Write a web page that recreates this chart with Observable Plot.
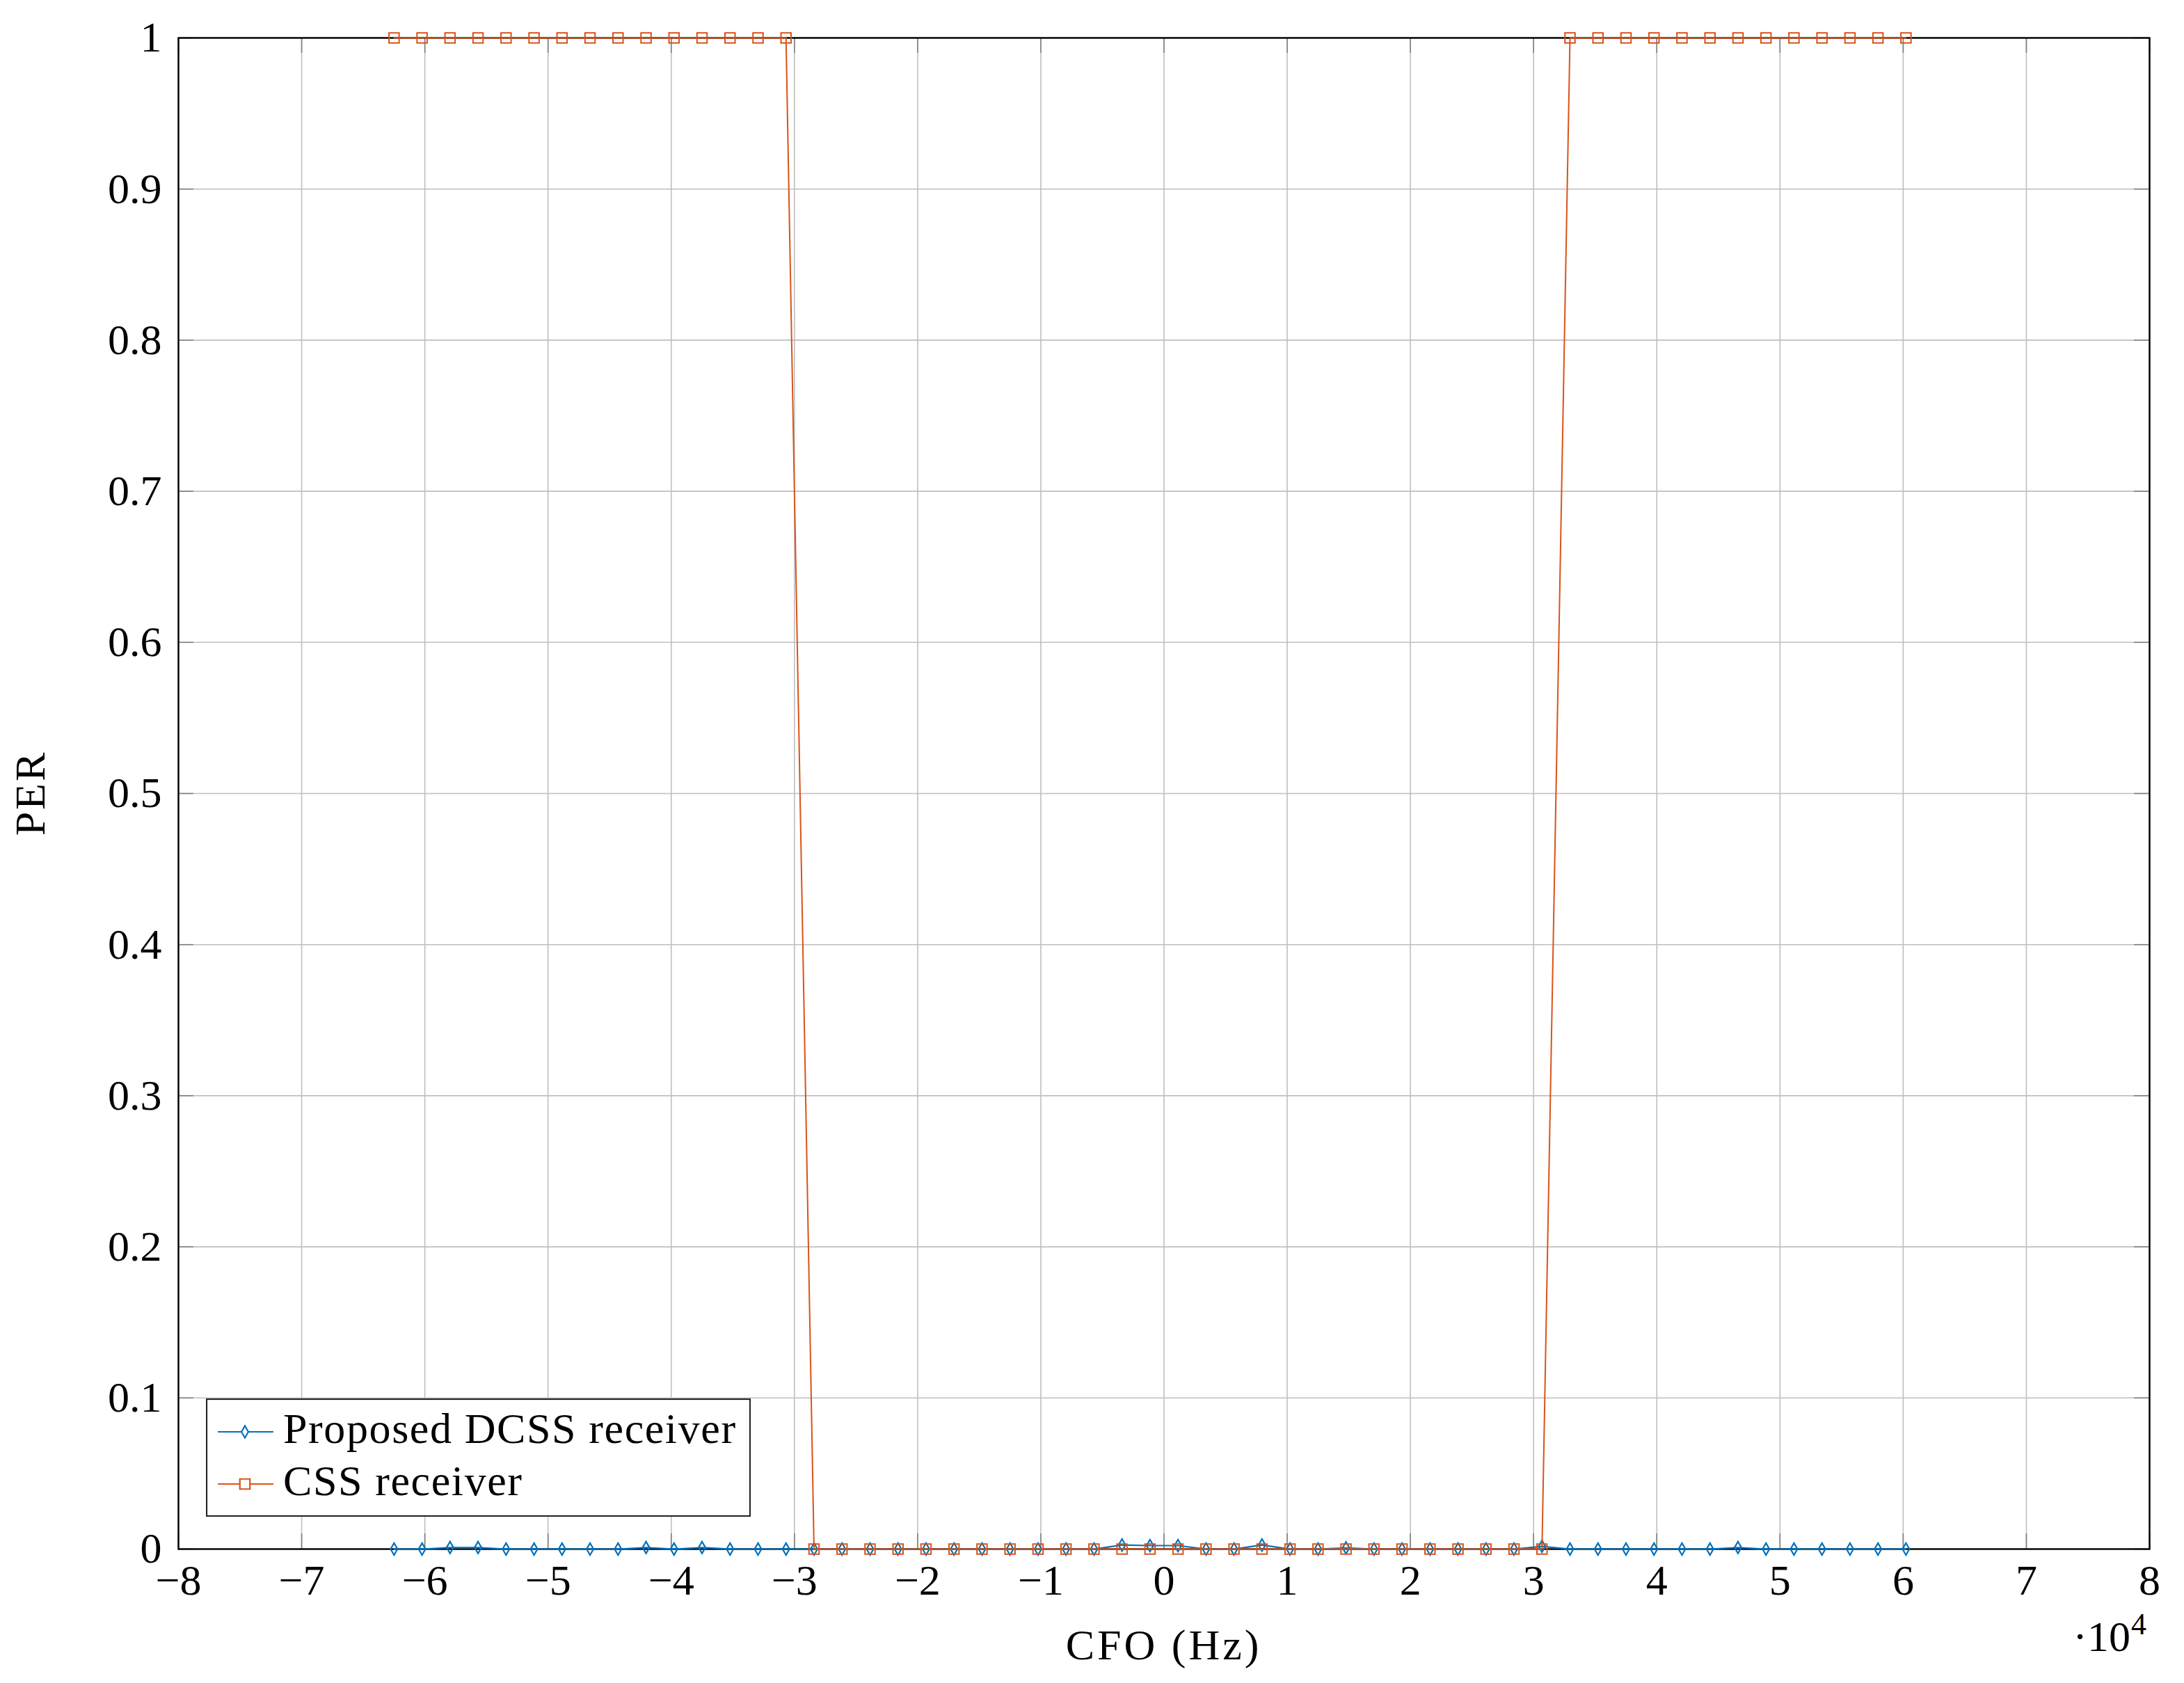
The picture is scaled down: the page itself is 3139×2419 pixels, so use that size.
<!DOCTYPE html>
<html><head><meta charset="utf-8">
<script src="https://cdn.jsdelivr.net/npm/d3@7"></script>
<script src="https://cdn.jsdelivr.net/npm/@observablehq/plot@0.6"></script>
<style>
html,body{margin:0;padding:0;background:#fff;}
#wrap{position:relative;width:3139px;height:2419px;font-family:"Liberation Serif",serif;}
#wrap svg{display:block;}
#legend{position:absolute;left:296px;top:2010px;}
</style></head><body><div id="wrap"></div>
<script>
const cfo = [-62500,-60227,-57955,-55682,-53409,-51136,-48864,-46591,-44318,-42045,-39773,-37500,-35227,-32955,-30682,-28409,-26136,-23864,-21591,-19318,-17045,-14773,-12500,-10227,-7955,-5682,-3409,-1136,1136,3409,5682,7955,10227,12500,14773,17045,19318,21591,23864,26136,28409,30682,32955,35227,37500,39773,42045,44318,46591,48864,51136,53409,55682,57955,60227];
const perDCSS = [0,0,0.001,0.001,0,0,0,0,0,0.001, 0,0.001,0,0,0,0,0,0,0,0, 0,0,0,0,0,0,0.0027,0.0023,0.0023,0, 0,0.0027,0,0,0.0008,0,0,0,0,0, 0,0.0018,0,0,0,0,0,0,0.001,0, 0,0,0,0,0];
const perCSS = [1,1,1,1,1,1,1,1,1,1,1,1,1,1,1, 0,0,0,0,0,0,0,0,0,0, 0,0,0,0,0,0,0,0,0,0, 0,0,0,0,0,0,0, 1,1,1,1,1,1,1,1,1,1,1,1,1];
const xTicks = [-80000,-70000,-60000,-50000,-40000,-30000,-20000,-10000,0,10000,20000,30000,40000,50000,60000,70000,80000];
const yTicks = [0,0.1,0.2,0.3,0.4,0.5,0.6,0.7,0.8,0.9,1];
const seriesNames = ["Proposed DCSS receiver","CSS receiver"];
const seriesColors = ["#0072BD","#D95319"];
const seriesSymbols = ["diamond","square"];
const xLabel = "CFO (Hz)";
const yLabel = "PER";

const dcss = cfo.map((x,i)=>({x, y: perDCSS[i]}));
const css = cfo.map((x,i)=>({x, y: perCSS[i]}));

const W=3139, H=2419, mL=256, mR=50, mT=54, mB=193;
const pW = W-mL-mR, pH = H-mT-mB;
const FS = 60;
const fmtX = d => d===0 ? "0" : (d<0 ? "\u2212" : "") + Math.abs(d/1e4);
const grid = {stroke:"#bfbfbf", strokeOpacity:1, strokeWidth:1.6};
const tickSty = {stroke:"#808080", strokeWidth:1.6};

const plot = Plot.plot({
  width: W, height: H, marginLeft: mL, marginRight: mR, marginTop: mT, marginBottom: mB,
  style: {fontFamily: "'Liberation Serif', serif", fontSize: FS+"px", color:"#000", background:"#fff"},
  x: {domain: [-80000, 80000], label: null},
  y: {domain: [0, 1], label: null},
  marks: [
    Plot.gridX(xTicks, grid),
    Plot.gridY(yTicks, grid),
    Plot.tickX(xTicks, {x: d=>d, ...tickSty, insetTop: pH-22}),
    Plot.tickX(xTicks, {x: d=>d, ...tickSty, insetBottom: pH-22}),
    Plot.tickY(yTicks, {y: d=>d, ...tickSty, insetRight: pW-22}),
    Plot.tickY(yTicks, {y: d=>d, ...tickSty, insetLeft: pW-22}),
    Plot.axisX(xTicks, {anchor:"bottom", tickSize:0, tickPadding:21, tickFormat: fmtX, fill:"#000", fontSize: 62}),
    Plot.axisY(yTicks, {anchor:"left", tickSize:0, tickPadding:24, tickFormat: d=>String(d), fill:"#000", fontSize: 62}),
    Plot.frame({stroke:"#000", strokeWidth:2.4}),
    Plot.line(dcss, {x:"x", y:"y", stroke: seriesColors[0], strokeWidth:2.2}),
    Plot.dot(dcss, {x:"x", y:"y", symbol: seriesSymbols[0], r:5.2, stroke: seriesColors[0], fill:"none", strokeWidth:2.2}),
    Plot.line(css, {x:"x", y:"y", stroke: seriesColors[1], strokeWidth:2}),
    Plot.dot(css, {x:"x", y:"y", symbol: seriesSymbols[1], r:8.2, stroke: seriesColors[1], fill:"none", strokeWidth:2})
  ]
});
const wrap = document.getElementById("wrap");
wrap.appendChild(plot);

// axis titles and scale factor
const svg = d3.select(plot);
const cx = mL + pW/2;
svg.append("text").attr("x", cx).attr("y", 2385).attr("text-anchor","middle")
  .attr("font-size", 62).attr("letter-spacing", 4).attr("fill","#000").text(xLabel);
svg.append("text").attr("transform", `translate(64,${mT + pH/2}) rotate(-90)`).attr("text-anchor","middle")
  .attr("font-size", 62).attr("letter-spacing", 3).attr("fill","#000").text(yLabel);
svg.append("text").attr("x", 3062).attr("y", 2373).attr("text-anchor","end")
  .attr("font-size", 62).attr("fill","#000").text("\u00b710");
svg.append("text").attr("x", 3063).attr("y", 2349).attr("text-anchor","start")
  .attr("font-size", 44).attr("fill","#000").text("4");

// legend
const LW = 783, LH = 170;
const lg = d3.select(wrap).append("svg").attr("id","legend").attr("width", LW).attr("height", LH)
  .style("font-family","'Liberation Serif', serif");
lg.append("rect").attr("x",1).attr("y",1).attr("width",LW-2).attr("height",LH-2)
  .attr("fill","#fff").attr("stroke","#262626").attr("stroke-width",2.2);
const symSize = [Math.PI*5.2*5.2, Math.PI*8.2*8.2];
const symTypes = [d3.symbolDiamond, d3.symbolSquare];
seriesNames.forEach((name,i)=>{
  const yc = 48 + i*75;
  lg.append("line").attr("x1",17).attr("x2",97).attr("y1",yc).attr("y2",yc)
    .attr("stroke",seriesColors[i]).attr("stroke-width",2.2);
  lg.append("path").attr("d", d3.symbol(symTypes[i], symSize[i])())
    .attr("transform",`translate(56,${yc})`).attr("fill","#fff").attr("stroke",seriesColors[i]).attr("stroke-width",2.2);
  lg.append("text").attr("x",111).attr("y",yc+16).attr("font-size",62).attr("letter-spacing",1.6).attr("fill","#000").text(name);
});
</script></body></html>
